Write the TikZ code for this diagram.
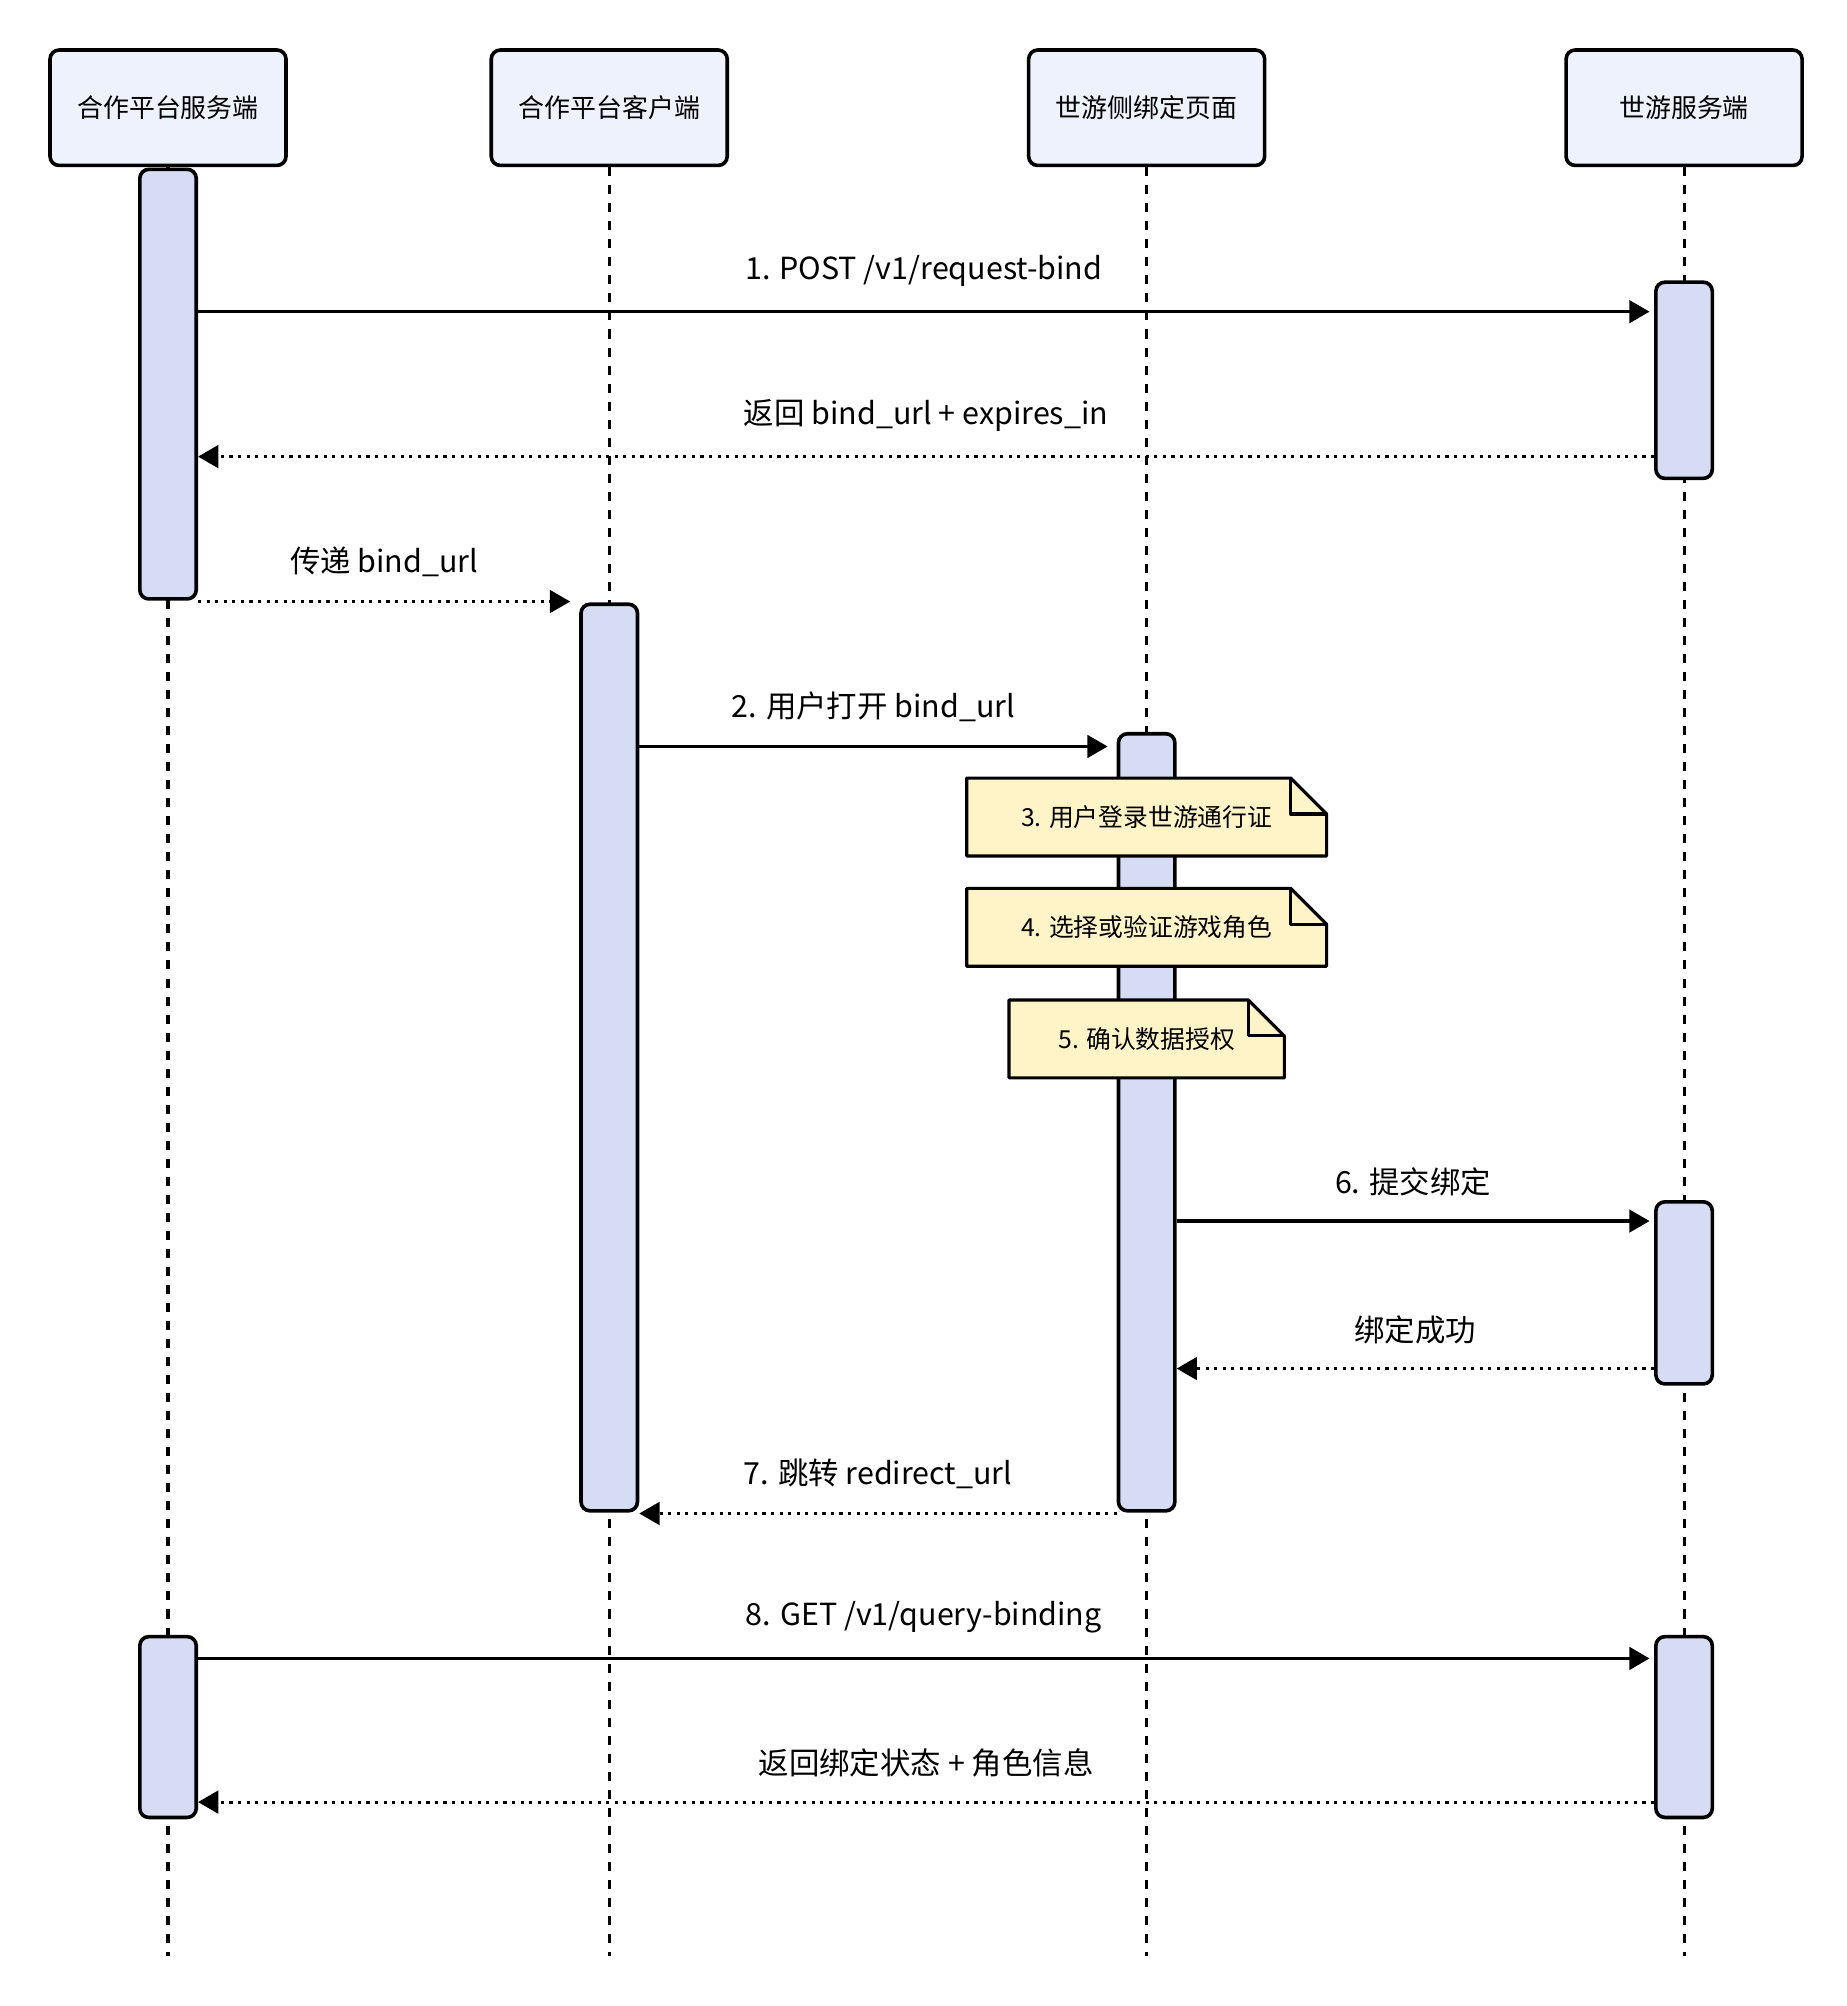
\documentclass[tikz,border=0pt]{standalone}
\usepackage{fontspec}
\setmainfont{Noto Sans CJK SC}
\usetikzlibrary{arrows.meta, positioning}
\definecolor{headfill}{HTML}{EEF2FC}
\definecolor{actfill}{HTML}{D6DCF4}
\definecolor{notefill}{HTML}{FFF4C8}
\tikzset{
  head/.style={draw, line width=1.6pt, rounded corners=4pt, fill=headfill, minimum width=3.68cm, minimum height=1.8cm, font=\fontsize{11.5}{13}\selectfont},
  life/.style={line width=1.4pt, dash pattern=on 4pt off 4pt},
  act/.style={draw, line width=1.6pt, rounded corners=4pt, fill=actfill, minimum width=0.88cm, inner sep=0pt},
  msg/.style={line width=1.4pt, -{Triangle[length=9pt,width=10pt]}},
  ret/.style={msg, dash pattern=on 1.4pt off 2.4pt},
  lbl/.style={font=\fontsize{13.5}{15}\selectfont},
  note/.style={font=\fontsize{11}{13}\selectfont, inner sep=0pt},
  notebd/.style={draw, line width=1.4pt, fill=notefill, line join=round},
}
\begin{document}
\begin{tikzpicture}[x=0.02cm, y=-0.02cm]
  \useasboundingbox (0,0) rectangle (1440,1564);

  % participants
  \node[head] (h1) at (131,84) {合作平台服务端};
  \node[head] (h2) at (475,84) {合作平台客户端};
  \node[head] (h3) at (894,84) {世游侧绑定页面};
  \node[head] (h4) at (1313,84) {世游服务端};

  % lifelines
  \foreach \h in {h1,h2,h3,h4}
    \draw[life] (\h.south) -- (\h.south |- 0,1525);

  % activations
  \node[act, minimum height=6.7cm] (a1) at (131,299.5) {};
  \node[act, minimum height=3.06cm] (a4) at (1313,296.5) {};
  \node[act, minimum height=14.14cm] (a2) at (475,824.5) {};
  \node[act, minimum height=12.12cm] (a3) at (894,875) {};
  \node[act, minimum height=2.84cm] (a4b) at (1313,1008) {};
  \node[act, minimum height=2.82cm] (a1c) at (131,1346.5) {};
  \node[act, minimum height=2.82cm] (a4c) at (1313,1346.5) {};

  % notes
  \node[note, minimum width=5.6cm, minimum height=1.2cm] (n3) at (894,637) {};
  \node[note, minimum width=5.6cm, minimum height=1.2cm] (n4) at (894,723) {};
  \node[note, minimum width=4.28cm, minimum height=1.2cm] (n5) at (894,810) {};
  \foreach \n in {n3,n4,n5} {
    \filldraw[notebd] (\n.south west) -- (\n.north west) -- ([xshift=-0.56cm]\n.north east)
      -- ([yshift=-0.56cm]\n.north east) -- (\n.south east) -- cycle;
    \draw[line width=1.4pt, line join=round] ([xshift=-0.56cm]\n.north east)
      -- ([xshift=-0.56cm, yshift=-0.56cm]\n.north east) -- ([yshift=-0.56cm]\n.north east);
  }
  \node[note] at (n3) {3. 用户登录世游通行证};
  \node[note] at (n4) {4. 选择或验证游戏角色};
  \node[note] at (n5) {5. 确认数据授权};

  % messages
  \draw[msg] (a1.east |- 0,243) -- node[lbl, above=7pt] {1. POST /v1/request-bind} ([xshift=-2pt]a4.west |- 0,243);
  \draw[ret] (a4.west |- 0,356) -- node[lbl, above=7pt] {返回 bind\_url + expires\_in} (a1.east |- 0,356);
  \draw[ret] (a1.east |- 0,469) -- node[lbl, above=7pt] {传递 bind\_url} ([xshift=-4pt]a2.west |- 0,469);
  \draw[msg] (a2.east |- 0,582) -- node[lbl, above=7pt] {2. 用户打开 bind\_url} ([xshift=-4pt]a3.west |- 0,582);
  \draw[msg] (a3.east |- 0,952) -- node[lbl, above=7pt] {6. 提交绑定} ([xshift=-2pt]a4b.west |- 0,952);
  \draw[ret] (a4b.west |- 0,1067) -- node[lbl, above=7pt] {绑定成功} (a3.east |- 0,1067);
  \draw[ret] (a3.west |- 0,1180) -- node[lbl, above=7pt] {7. 跳转 redirect\_url} (a2.east |- 0,1180);
  \draw[msg] (a1c.east |- 0,1293) -- node[lbl, above=7pt] {8. GET /v1/query-binding} ([xshift=-2pt]a4c.west |- 0,1293);
  \draw[ret] (a4c.west |- 0,1405) -- node[lbl, above=7pt] {返回绑定状态 + 角色信息} (a1c.east |- 0,1405);
\end{tikzpicture}
\end{document}
